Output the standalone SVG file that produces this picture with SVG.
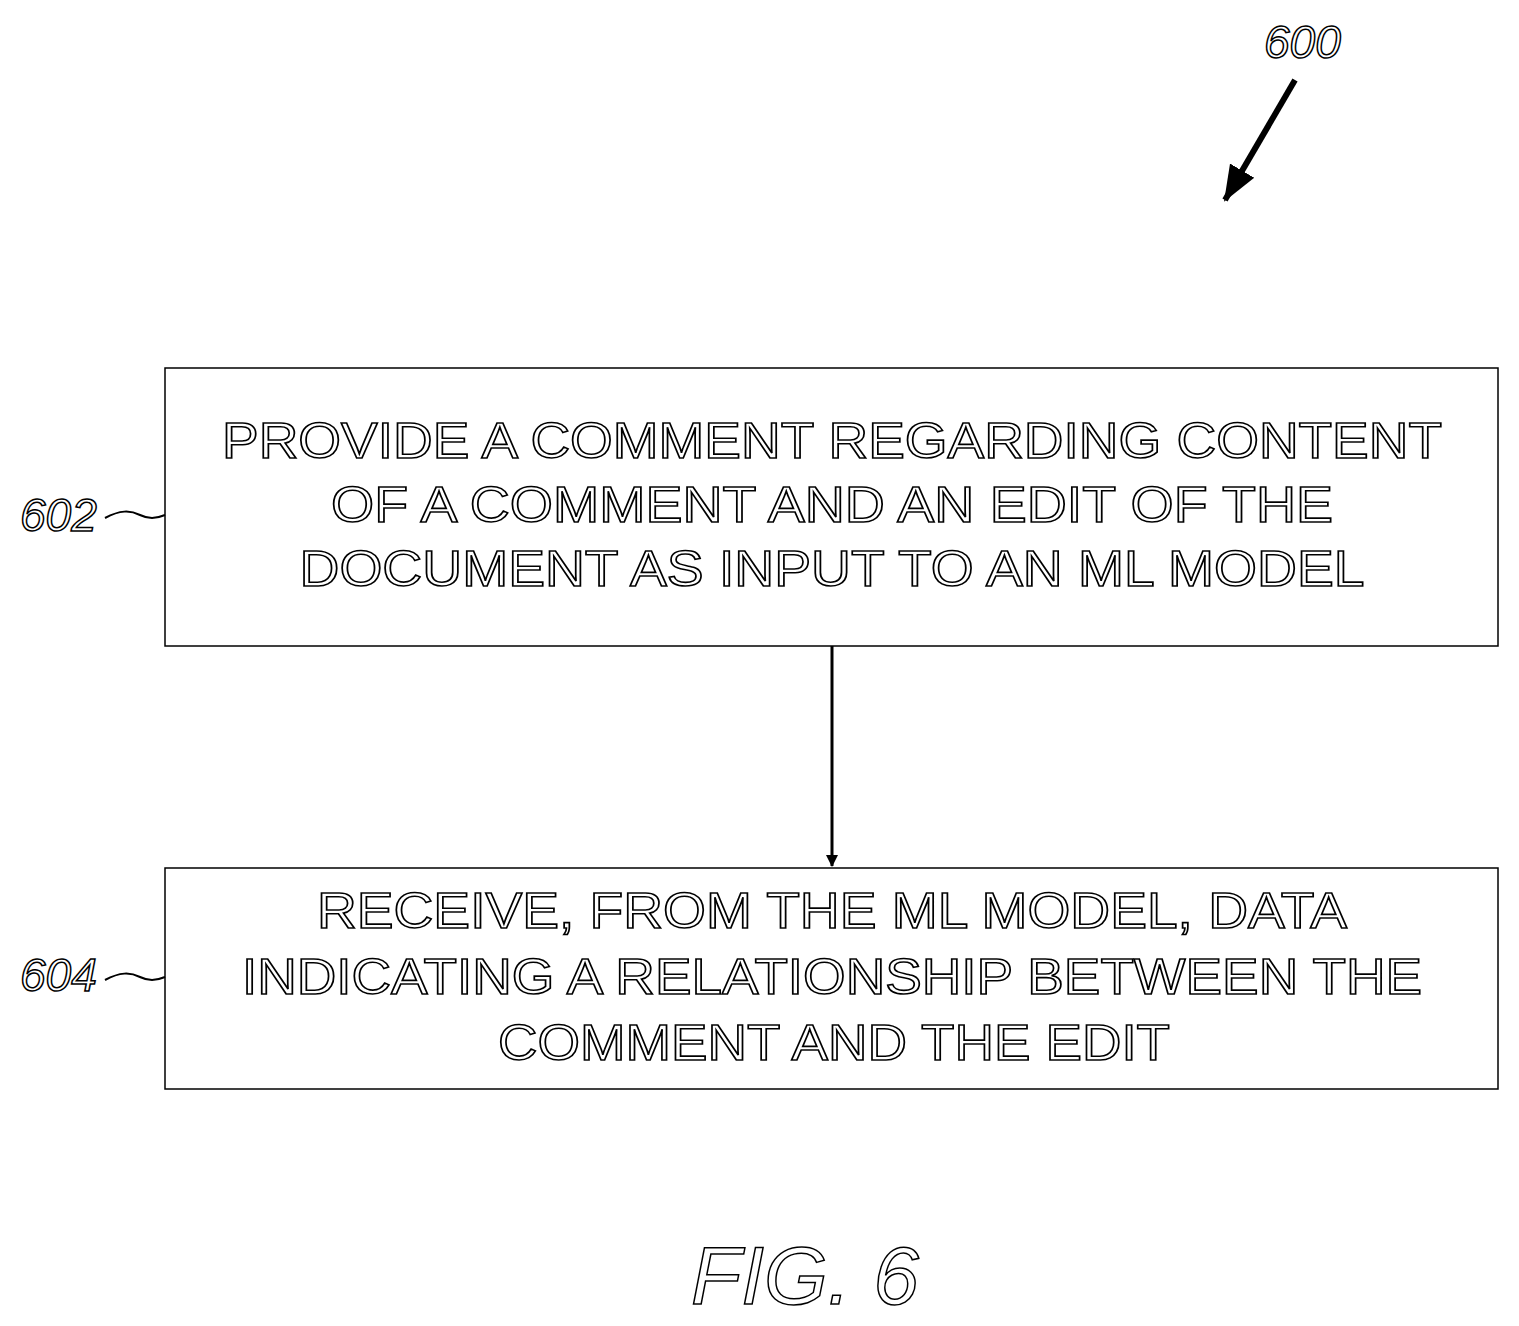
<svg xmlns="http://www.w3.org/2000/svg" width="1519" height="1326" viewBox="0 0 1519 1326">
<style>
.box{fill:#fff;stroke:#000;stroke-width:1.5}
.t{font-family:"Liberation Sans",Arial,sans-serif;font-size:50px;fill:#fff;stroke:#000;stroke-width:1.6;text-anchor:middle}
.lbl{font-family:"Liberation Sans",Arial,sans-serif;font-style:italic;font-size:46px;fill:#fff;stroke:#000;stroke-width:1.5}
.ln{fill:none;stroke:#000;stroke-width:3}
</style>
<defs><marker id="ah" markerWidth="12" markerHeight="12" refX="11" refY="6" orient="auto" markerUnits="userSpaceOnUse" viewBox="0 0 12 12"><path d="M0,0 L12,6 L0,12 z" fill="#000"/></marker>
<marker id="ah2" markerWidth="36" markerHeight="36" refX="34" refY="18" orient="auto" markerUnits="userSpaceOnUse" viewBox="0 0 36 36"><path d="M0,4 L36,18 L0,32 z" fill="#000"/></marker></defs>
<g id="n602">
<rect class="box" x="165" y="368" width="1333" height="278"/>
<text class="t" x="832" y="458" textLength="1220" lengthAdjust="spacingAndGlyphs">PROVIDE A COMMENT REGARDING CONTENT</text>
<text class="t" x="832" y="522" textLength="1002" lengthAdjust="spacingAndGlyphs">OF A COMMENT AND AN EDIT OF THE</text>
<text class="t" x="832" y="586" textLength="1065" lengthAdjust="spacingAndGlyphs">DOCUMENT AS INPUT TO AN ML MODEL</text>
<text class="lbl" x="20" y="531">602</text>
<path class="ln" style="stroke-width:2" d="M105,518 C120,510 130,510 140,515 C150,520 158,518 165,515"/>
</g>
<g id="n604">
<rect class="box" x="165" y="868" width="1333" height="221"/>
<text class="t" x="832" y="928" textLength="1030" lengthAdjust="spacingAndGlyphs">RECEIVE, FROM THE ML MODEL, DATA</text>
<text class="t" x="832" y="994" textLength="1180" lengthAdjust="spacingAndGlyphs">INDICATING A RELATIONSHIP BETWEEN THE</text>
<text class="t" x="834" y="1060" textLength="672" lengthAdjust="spacingAndGlyphs">COMMENT AND THE EDIT</text>
<text class="lbl" x="20" y="991">604</text>
<path class="ln" style="stroke-width:2" d="M105,980 C120,972 130,972 140,977 C150,982 158,980 165,977"/>
</g>
<g id="connectors">
<line class="ln" x1="832" y1="646" x2="832" y2="866" marker-end="url(#ah)" style="stroke-width:3"/>
<line class="ln" x1="1295" y1="80" x2="1225" y2="200" marker-end="url(#ah2)" style="stroke-width:6"/>
</g>
<text class="lbl" x="1264" y="58">600</text>
<text class="lbl" x="805" y="1304" text-anchor="middle" style="font-size:82px">FIG. 6</text>
</svg>
